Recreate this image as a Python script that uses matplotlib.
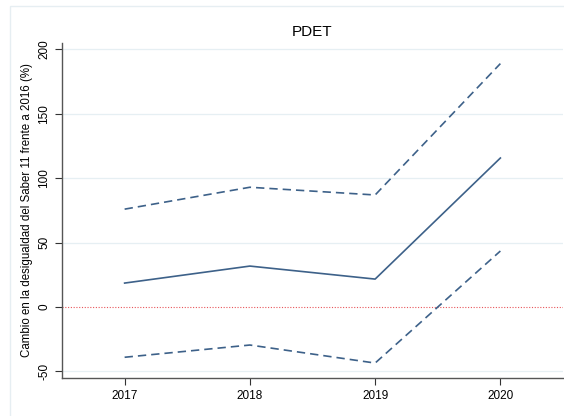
import matplotlib
matplotlib.use("Agg")
import matplotlib.pyplot as plt
from matplotlib.patches import Rectangle

years = [2017, 2018, 2019, 2020]
estimate = [18.6, 31.8, 21.7, 115.7]
upper_ci = [76, 93, 87, 189]
lower_ci = [-39, -29.5, -43.5, 43.5]
yticks = [-50, 0, 50, 100, 150, 200]

plt.rcParams['font.family'] = ['Liberation Sans', 'DejaVu Sans']

fig = plt.figure(figsize=(5.64, 4.16), dpi=100)
fig.patches.append(Rectangle((10/564, -0.1), 1.2, (416-6)/416 + 0.1, transform=fig.transFigure,
                             fill=False, edgecolor='#e6eef2', linewidth=1.0))
ax = fig.add_axes([62/564, 38/416, 501/564, 335/416])
col = '#3d6189'
for v in yticks:
    if v != 0:
        ax.axhline(v, color='#e6eff3', lw=0.9, zorder=0)
ax.axhline(0, color='#e8555a', lw=0.8, ls=(0, (1.0, 1.5)), zorder=1)
ax.plot(years, estimate, color=col, lw=1.2)
ax.plot(years, upper_ci, color=col, lw=1.2, ls=(0, (5, 3)))
ax.plot(years, lower_ci, color=col, lw=1.2, ls=(0, (5, 3)))
ax.set_xlim(2016.5, 2020.5)
ax.set_ylim(-55.1, 205)
ax.set_xticks(years)
ax.set_xticklabels([str(y) for y in years])
ax.set_yticks(yticks)
ax.set_yticklabels([str(v) for v in yticks], rotation=90, va='center')
for s in ['top', 'right']:
    ax.spines[s].set_visible(False)
for s in ['left', 'bottom']:
    ax.spines[s].set_color('#555555')
    ax.spines[s].set_linewidth(1.0)
ax.tick_params(axis='both', colors='#333333', labelsize=8.5, length=5, width=0.8, labelcolor='black')
ax.set_ylabel('Cambio en la desigualdad del Saber 11 frente a 2016 (%)', fontsize=8.3, labelpad=4)
fig.text(312/564, 1 - 32/416, 'PDET', ha='center', va='center', fontsize=11)
fig.savefig('out.png', dpi=100)
